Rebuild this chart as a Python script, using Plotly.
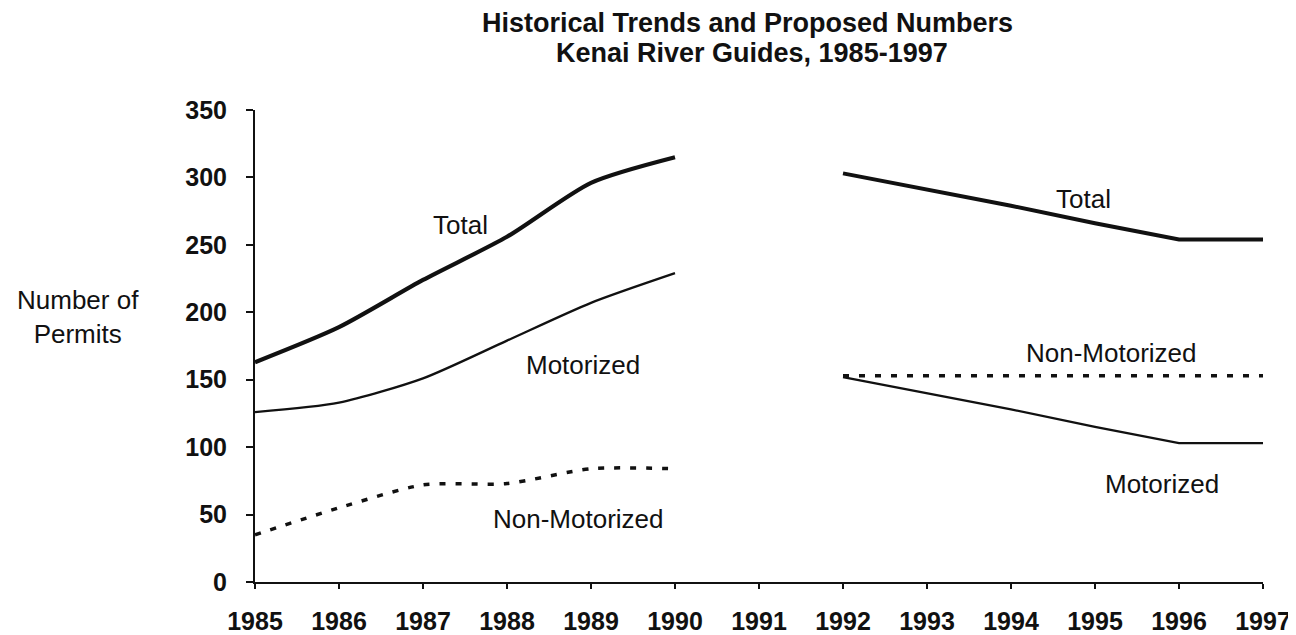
import plotly.graph_objects as go

# ---- data ----
years_hist = [1985, 1986, 1987, 1988, 1989, 1990]
total_hist = [163, 189, 224, 256, 296, 315]
motor_hist = [126, 133, 151, 179, 207, 229]
nonmotor_hist = [35, 55, 72, 73, 84, 84]

years_prop = [1992, 1993, 1994, 1995, 1996, 1997]
total_prop = [303, 291, 279, 266, 254, 254]
motor_prop = [152, 140, 128, 115, 103, 103]
nonmotor_prop = [153, 153, 153, 153, 153, 153]

tick_years = [1985, 1986, 1987, 1988, 1989, 1990, 1991, 1992, 1993, 1994, 1995, 1996, 1997]
tick_labels = [str(y) for y in tick_years]
y_ticks = [0, 50, 100, 150, 200, 250, 300, 350]

title_line1 = "Historical Trends and Proposed Numbers"
title_line2 = "Kenai River Guides, 1985-1997"

series_labels = [
    ("Total", 1987.45, 265),
    ("Motorized", 1988.9, 161),
    ("Non-Motorized", 1988.85, 47),
    ("Total", 1994.86, 284),
    ("Non-Motorized", 1995.2, 170),
    ("Motorized", 1995.8, 73),
]

INK = "#111111"
FONT = "Liberation Sans, Arial, Helvetica, sans-serif"

fig = go.Figure()

def add(x, y, width, dash="solid", shape="linear"):
    fig.add_trace(go.Scatter(
        x=x, y=y, mode="lines",
        line=dict(color=INK, width=width, dash=dash, shape=shape, smoothing=0.7),
        showlegend=False, hoverinfo="x+y"))

add(years_hist, total_hist, 4.2, shape="spline")
add(years_hist, motor_hist, 2.3, shape="spline")
add(years_hist, nonmotor_hist, 3.5, dash="6px,10px", shape="spline")
add(years_prop, total_prop, 4.0)
add(years_prop, motor_prop, 2.3)
add(years_prop, nonmotor_prop, 3.5, dash="6px,10px")

annotations = []
for text, x, y in series_labels:
    annotations.append(dict(x=x, y=y, xref="x", yref="y", text=text, showarrow=False,
                            xanchor="center", yanchor="middle",
                            font=dict(family=FONT, size=26, color=INK)))

annotations.append(dict(x=-0.1756, y=0.562, xref="paper", yref="paper",
                        text="Number of<br>Permits",
                        showarrow=False, xanchor="center", yanchor="middle",
                        font=dict(family=FONT, size=26, color=INK)))

annotations.append(dict(x=0.489, y=1.184, xref="paper", yref="paper",
                        text="<b>" + title_line1 + "</b>",
                        showarrow=False, xanchor="center", yanchor="middle",
                        font=dict(family=FONT, size=27, color=INK)))
annotations.append(dict(x=0.493, y=1.121, xref="paper", yref="paper",
                        text="<b>" + title_line2 + "</b>",
                        showarrow=False, xanchor="center", yanchor="middle",
                        font=dict(family=FONT, size=27, color=INK)))

# page body has an 8px margin, so the figure is slightly smaller than the window
fig.update_layout(
    width=1288, height=627,
    paper_bgcolor="white", plot_bgcolor="white",
    margin=dict(l=247, r=33, t=102, b=53),
    annotations=annotations,
    xaxis=dict(
        range=[1985, 1997], tickvals=tick_years, ticktext=tick_labels,
        automargin=False,
        showgrid=False, zeroline=False, showline=True, linecolor=INK, linewidth=2,
        ticks="outside", ticklen=5, tickwidth=1.5, tickcolor=INK,
        ticklabelstandoff=11,
        tickfont=dict(family=FONT, size=25, color=INK, weight="bold")),
    yaxis=dict(
        range=[0, 350], tickvals=y_ticks,
        automargin=False,
        showgrid=False, zeroline=False, showline=True, linecolor=INK, linewidth=2,
        ticks="outside", ticklen=7, tickwidth=1.5, tickcolor=INK,
        ticklabelstandoff=14,
        tickfont=dict(family=FONT, size=25, color=INK, weight="bold")),
)

fig.write_html("out.html")
